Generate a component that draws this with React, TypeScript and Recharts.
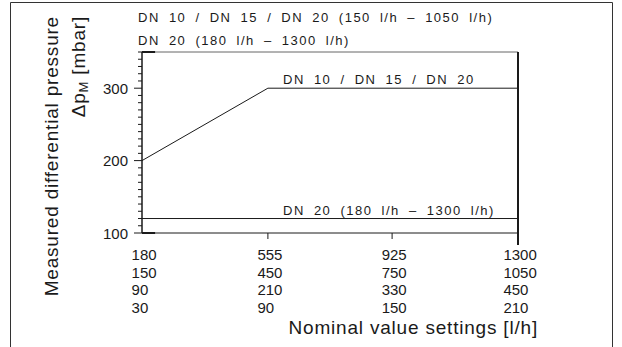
import { LineChart, Line, XAxis, YAxis, ReferenceLine, ReferenceDot, Customized } from 'recharts'

// nominal value settings, one row per valve size range (top row drives the axis)
const settingsA = [180, 555, 925, 1300]
const settingsB = [150, 450, 750, 1050]
const settingsC = [90, 210, 330, 450]
const settingsD = [30, 90, 150, 210]

const dn10to20 = [
  { flow: 180, dp: 200 },
  { flow: 555, dp: 300 },
  { flow: 1300, dp: 300 },
]
const dn20 = [
  { flow: 180, dp: 120 },
  { flow: 1300, dp: 120 },
]

const yTicks = [100, 110, 120, 130, 140, 150, 160, 170, 180, 190, 200, 210, 220, 230, 240, 250, 260, 270, 280, 290, 300, 310, 320, 330, 340, 350]
const yLabels = [100, 200, 300]

const legendTop = [
  'DN 10 / DN 15 / DN 20 (150 l/h – 1050 l/h)',
  'DN 20 (180 l/h – 1300 l/h)',
]
const curveLabels = ['DN 10 / DN 15 / DN 20', 'DN 20 (180 l/h – 1300 l/h)']

const INK = '#1a1a1a'
const SANS = '"Liberation Sans", Arial, sans-serif'
const TECH = {
  fontFamily: SANS,
  fontSize: 13,
  letterSpacing: 1.5,
  wordSpacing: 4,
  fill: INK,
}
const TITLE = { fontFamily: SANS, fontSize: 19, letterSpacing: 0.8, fill: INK }

function FlowTick({ x, y, index }: any) {
  const rows = [settingsA[index], settingsB[index], settingsC[index], settingsD[index]]
  const w = String(rows[0]).length * 8.3
  const tx = x + 2 - w / 2
  const last = index === settingsA.length - 1
  return (
    <g>
      {index > 0 && (
        <line x1={x} x2={x} y1={y} y2={y + (last ? 12 : 6)} stroke={INK} strokeWidth={last ? 2 : 1} />
      )}
      {rows.map((v, i) => (
        <text key={i} x={tx} y={y + 27 + i * 17.5} fontFamily={SANS} fontSize={15} fill={INK}>
          {v}
        </text>
      ))}
    </g>
  )
}

function PressureTick({ x, y, payload }: any) {
  const major = yLabels.includes(payload.value)
  return (
    <g>
      <line x1={x - (major ? 8 : 4)} x2={x} y1={y} y2={y} stroke={INK} strokeWidth={1} />
      {major && (
        <text x={x - 14} y={y + 5.5} textAnchor="end" fontFamily={SANS} fontSize={15} fill={INK}>
          {payload.value}
        </text>
      )}
    </g>
  )
}

function YTitle() {
  return (
    <g {...TITLE}>
      <text x={58} y={16} textAnchor="end" transform="rotate(-90, 58, 16)">
        Measured differential pressure
      </text>
      <text x={85} y={16} textAnchor="end" transform="rotate(-90, 85, 16)">
        <tspan>Δp</tspan>
        <tspan dy={3} fontSize={13}>M</tspan>
        <tspan dy={-3}> [mbar]</tspan>
      </text>
    </g>
  )
}

function XTitle() {
  return (
    <text x={538} y={334} textAnchor="end" {...TITLE}>
      Nominal value settings [l/h]
    </text>
  )
}

function Frame() {
  return (
    <g>
      <path d="M10.5 347 V2.5 H612.5 V347" fill="none" stroke="#333" strokeWidth={1} />
      {legendTop.map((t, i) => (
        <text key={i} x={138} y={22 + i * 23} {...TECH}>
          {t}
        </text>
      ))}
    </g>
  )
}

const curveLabel = (text: string) => (props: any) => {
  const { x, y } = props.viewBox
  return (
    <text x={x} y={y - 4} {...TECH}>
      {text}
    </text>
  )
}

export default function App() {
  return (
    <div style={{ position: 'absolute', left: 0, top: 0, background: '#fff' }}>
      <LineChart width={622} height={347} margin={{ top: 52, right: 104, bottom: 0, left: 0 }}>
        <XAxis
          type="number"
          dataKey="flow"
          domain={[180, 1300]}
          ticks={settingsA}
          allowDataOverflow
          height={114}
          tickSize={0}
          tickMargin={0}
          tickLine={false}
          axisLine={{ stroke: INK, strokeWidth: 1 }}
          tick={<FlowTick />}
          interval={0}
          label={<XTitle />}
        />
        <YAxis
          type="number"
          domain={[100, 350]}
          ticks={yTicks}
          allowDataOverflow
          width={142}
          tickSize={0}
          tickMargin={0}
          tickLine={false}
          axisLine={{ stroke: INK, strokeWidth: 1.5 }}
          tick={<PressureTick />}
          interval={0}
          label={<YTitle />}
        />
        <ReferenceLine y={350} stroke="#666" strokeWidth={1} />
        <ReferenceLine x={1300} stroke={INK} strokeWidth={2} />
        <ReferenceLine segment={[{ x: 180, y: 350 }, { x: 219, y: 350 }]} stroke={INK} strokeWidth={2} />
        <ReferenceLine segment={[{ x: 180, y: 100 }, { x: 219, y: 100 }]} stroke={INK} strokeWidth={2} />
        <Line data={dn10to20} dataKey="dp" type="linear" stroke={INK} strokeWidth={1} dot={false} isAnimationActive={false} />
        <Line data={dn20} dataKey="dp" type="linear" stroke={INK} strokeWidth={1} dot={false} isAnimationActive={false} />
        <ReferenceDot x={600} y={300} r={0} stroke="none" label={curveLabel(curveLabels[0])} />
        <ReferenceDot x={600} y={120} r={0} stroke="none" label={curveLabel(curveLabels[1])} />
        <Customized component={Frame} />
      </LineChart>
    </div>
  )
}
